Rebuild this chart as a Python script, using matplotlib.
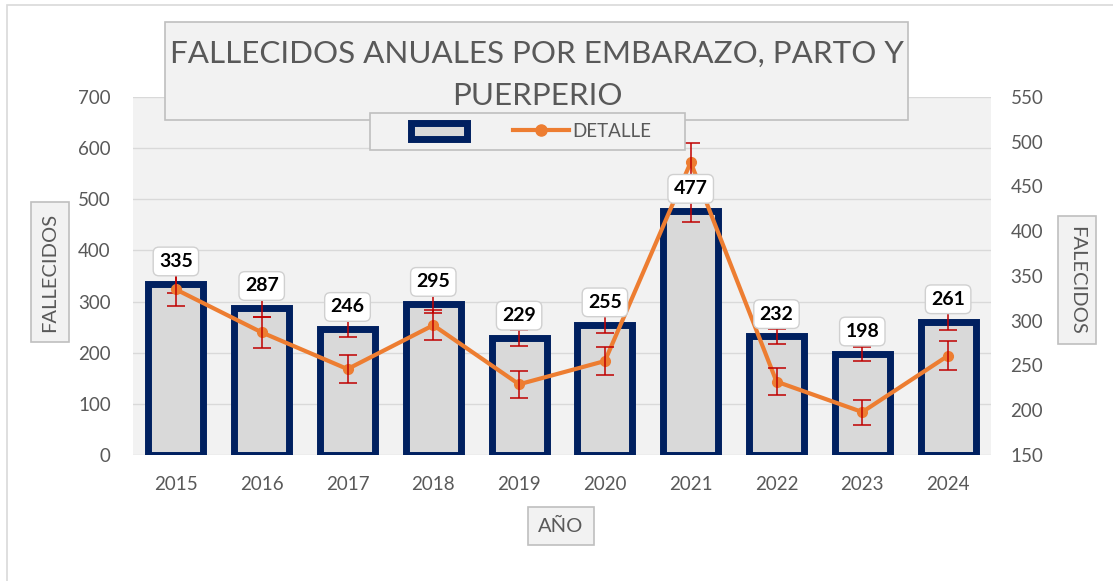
import numpy as np
import matplotlib
matplotlib.use('Agg')
import matplotlib.pyplot as plt
from matplotlib.patches import Rectangle, Patch
from matplotlib.lines import Line2D

plt.rcParams['font.family'] = ['Lato', 'DejaVu Sans']

# data
years = ['2015', '2016', '2017', '2018', '2019', '2020', '2021', '2022', '2023', '2024']
fallecidos = [335, 287, 246, 295, 229, 255, 477, 232, 198, 261]
errores = [18, 17, 16, 17, 15, 16, 22, 15, 14, 16]   # red error bars, approx
left_ticks = [0, 100, 200, 300, 400, 500, 600, 700]
right_ticks = [150, 200, 250, 300, 350, 400, 450, 500, 550]

GREY_TXT = '#595959'
NAVY = '#002060'
ORANGE = '#ED7D31'
RED = '#C00000'

fig = plt.figure(figsize=(11.13, 5.81), dpi=100)
fig.patch.set_facecolor('white')

# axes position in figure fraction (plot area of the original)
ax = fig.add_axes([133 / 1113, 1 - 455 / 581, (991 - 133) / 1113, (455 - 97) / 581])
ax2 = ax.twinx()

x = np.arange(len(years))

ax.set_facecolor('#f2f2f2')
ax.bar(x, fallecidos, width=0.64, color='#d9d9d9', edgecolor=NAVY,
       linewidth=5, zorder=2)
ax.errorbar(x, fallecidos, yerr=errores, fmt='none', ecolor=RED,
            elinewidth=1.1, capsize=6.5, capthick=1.1, zorder=3)
ax.set_xlim(-0.5, len(years) - 0.5)
ax.set_ylim(0, 700)
ax.set_yticks(left_ticks)
ax.set_xticks(x)
ax.set_xticklabels(years)
ax.yaxis.grid(True, color='#d9d9d9', linewidth=1)
ax.set_axisbelow(True)

ax2.plot(x, fallecidos, color=ORANGE, lw=3, marker='o', ms=7, zorder=2)
ax2.errorbar(x, fallecidos, yerr=errores, fmt='none', ecolor=RED,
             elinewidth=1.1, capsize=6.5, capthick=1.1, zorder=3)
ax2.set_ylim(150, 550)
ax2.set_yticks(right_ticks)

for a in (ax, ax2):
    for s in a.spines.values():
        s.set_visible(False)
    a.tick_params(length=0, labelsize=13.5, labelcolor=GREY_TXT)
ax.tick_params(axis='y', pad=16)
ax.tick_params(axis='x', pad=15)
ax2.tick_params(axis='y', pad=14)

# data labels above the bars, drawn on top of the line
for xi, v in zip(x, fallecidos):
    ax2.annotate(str(v), xy=(xi, v), xycoords=ax.transData,
                 xytext=(0, 16), textcoords='offset points',
                 ha='center', va='center', fontsize=14, fontweight='bold',
                 color='black', zorder=10,
                 bbox=dict(boxstyle='round,pad=0.3,rounding_size=0.3',
                           fc='white', ec='#d0d0d0', lw=1))

# outer chart border (top/left only visible)
fig.patches.append(Rectangle((7 / 1113, -0.1), 1.2, 1 - 5 / 581 + 0.1,
                             transform=fig.transFigure, fill=False,
                             ec='#d9d9d9', lw=1.2, zorder=0))

# title box
fig.patches.append(Rectangle((165 / 1113, 1 - 120 / 581), (908 - 165) / 1113,
                             (120 - 22) / 581, transform=fig.transFigure,
                             fc='#f2f2f2', ec='#bfbfbf', lw=1.2, zorder=1))
fig.text(537 / 1113, 1 - 75 / 581,
         'FALLECIDOS ANUALES POR EMBARAZO, PARTO Y\nPUERPERIO',
         ha='center', va='center', fontsize=22.6, color=GREY_TXT,
         linespacing=1.65, zorder=3)

# axis titles in boxes
box = dict(boxstyle='square,pad=0.5', fc='#f2f2f2', ec='#bfbfbf', lw=1.2)
fig.text(50 / 1113, 1 - 272 / 581, 'FALLECIDOS', rotation=90, ha='center',
         va='center', fontsize=14.5, color=GREY_TXT, bbox=box)
fig.text(1077 / 1113, 1 - 280 / 581, 'FALECIDOS', rotation=-90, ha='center',
         va='center', fontsize=14.5, color=GREY_TXT, bbox=box)
fig.text(561 / 1113, 1 - 526 / 581, 'AÑO', ha='center', va='center',
         fontsize=14.5, color=GREY_TXT, bbox=box)

# legend: frame drawn as its own box (wider than the entries), entries centred in it
fig.patches.append(Rectangle((370 / 1113, 1 - 150 / 581), (685 - 370) / 1113,
                             (150 - 113) / 581, transform=fig.transFigure,
                             fc='#f2f2f2', ec='#bfbfbf', lw=1.2, zorder=4))
handles = [Patch(facecolor='#d9d9d9', edgecolor=NAVY, linewidth=5),
           Line2D([], [], color=ORANGE, lw=3, marker='o', ms=8)]
leg = fig.legend(handles, ['', 'DETALLE'], loc='center',
                 bbox_to_anchor=(531 / 1113, 1 - 131.5 / 581), ncol=2,
                 frameon=False, fontsize=13.5,
                 handlelength=3.0, handleheight=1.0, columnspacing=2.3,
                 borderpad=0.3, borderaxespad=0, handletextpad=0.15,
                 labelcolor=GREY_TXT)
leg.set_zorder(5)

fig.savefig('out.png', dpi=100)
